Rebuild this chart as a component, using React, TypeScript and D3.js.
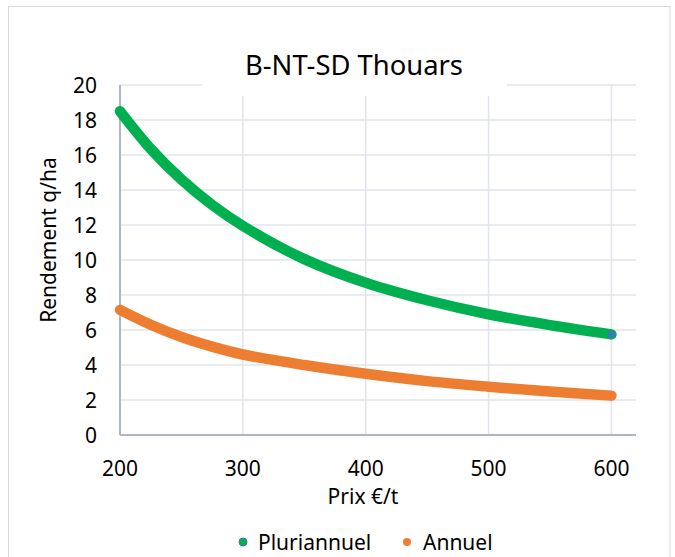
import React from "react";
import * as d3 from "d3";

const prix = [200, 225, 250, 275, 300, 350, 400, 450, 500, 550, 600];
const pluriannuel = [18.5, 16.35, 14.6, 13.15, 11.95, 10.05, 8.7, 7.7, 6.9, 6.28, 5.75];
const annuel = [7.15, 6.3, 5.6, 5.05, 4.6, 4.0, 3.5, 3.08, 2.76, 2.48, 2.25];
const xTicks = [200, 300, 400, 500, 600];
const yTicks = [0, 2, 4, 6, 8, 10, 12, 14, 16, 18, 20];
const seriesNames = ["Pluriannuel", "Annuel"];
const endPoint = { x: 600, y: 5.75 };

const FONT = "'Noto Sans', 'Open Sans', sans-serif";
const GREEN = "#00B050";
const ORANGE = "#ED7D31";
const BLUE = "#4472C4";
const GRID = "#e1e4eb";
const AXIS = "#adb5c7";
const TEXT = "#000000";

export default function App() {
  const W = 675;
  const H = 557;
  const left = 120;
  const right = 636;
  const top = 85;
  const bottom = 435;

  const x = d3.scaleLinear().domain([200, 620]).range([left, right]);
  const y = d3.scaleLinear().domain([0, 20]).range([bottom, top]);

  const line = d3
    .line<number>()
    .x((_, i) => x(prix[i]))
    .y((d) => y(d))
    .curve(d3.curveCatmullRom.alpha(0.5));

  const titleBox = { x0: 202, x1: 507, y1: 96 };

  return (
    <svg
      width={W}
      height={H}
      viewBox={`0 0 ${W} ${H}`}
      style={{ position: "absolute", left: 0, top: 0, background: "#fff" }}
      fontFamily={FONT}
    >
      <rect x={0} y={0} width={W} height={H} fill="#fff" />
      <rect x={8.5} y={6.5} width={661.5} height={600} fill="#fff" stroke="#d9d9d9" strokeWidth={1} />

      {/* horizontal gridlines */}
      {yTicks
        .filter((t) => t !== 0)
        .map((t) => (
          <line key={"h" + t} x1={left} x2={right} y1={y(t)} y2={y(t)} stroke={GRID} strokeWidth={1.5} />
        ))}
      {/* vertical gridlines */}
      {xTicks
        .filter((t) => t !== 200)
        .map((t) => (
          <line key={"v" + t} x1={x(t)} x2={x(t)} y1={top} y2={bottom} stroke={GRID} strokeWidth={1.5} />
        ))}

      {/* title background */}
      <rect x={titleBox.x0} y={30} width={titleBox.x1 - titleBox.x0} height={titleBox.y1 - 30} fill="#fff" />
      <text x={354} y={75} textAnchor="middle" fontSize={27.4} fill={TEXT}>
        B-NT-SD Thouars
      </text>

      {/* axes */}
      <line x1={left} x2={left} y1={top} y2={bottom} stroke={AXIS} strokeWidth={2} />
      <line x1={left} x2={right} y1={bottom} y2={bottom} stroke={AXIS} strokeWidth={2} />

      {/* y tick labels */}
      {yTicks.map((t) => (
        <text key={"yl" + t} x={97} y={y(t)} dy="0.36em" textAnchor="end" fontSize={21} fill={TEXT}>
          {t}
        </text>
      ))}
      {/* x tick labels */}
      {xTicks.map((t) => (
        <text key={"xl" + t} x={x(t)} y={476} textAnchor="middle" fontSize={21} fill={TEXT}>
          {t}
        </text>
      ))}

      {/* axis titles */}
      <text x={363} y={504} textAnchor="middle" fontSize={21} fill={TEXT}>
        Prix €/t
      </text>
      <text
        transform={`translate(55.5, 240) rotate(-90)`}
        textAnchor="middle"
        fontSize={21}
        fill={TEXT}
      >
        Rendement q/ha
      </text>

      {/* series */}
      <path d={line(pluriannuel) || ""} fill="none" stroke={GREEN} strokeWidth={10.5} strokeLinecap="round" strokeLinejoin="round" />
      <path d={line(annuel) || ""} fill="none" stroke={ORANGE} strokeWidth={10.5} strokeLinecap="round" strokeLinejoin="round" />
      <circle cx={x(endPoint.x)} cy={y(endPoint.y)} r={3.5} fill={BLUE} />

      {/* legend */}
      <circle cx={243} cy={542} r={4} fill={GREEN} stroke={BLUE} strokeWidth={1} />
      <text x={258} y={542} dy="0.36em" fontSize={21} fill={TEXT}>
        {seriesNames[0]}
      </text>
      <circle cx={407} cy={542} r={4} fill={ORANGE} />
      <text x={423} y={542} dy="0.36em" fontSize={21} fill={TEXT}>
        {seriesNames[1]}
      </text>
    </svg>
  );
}
